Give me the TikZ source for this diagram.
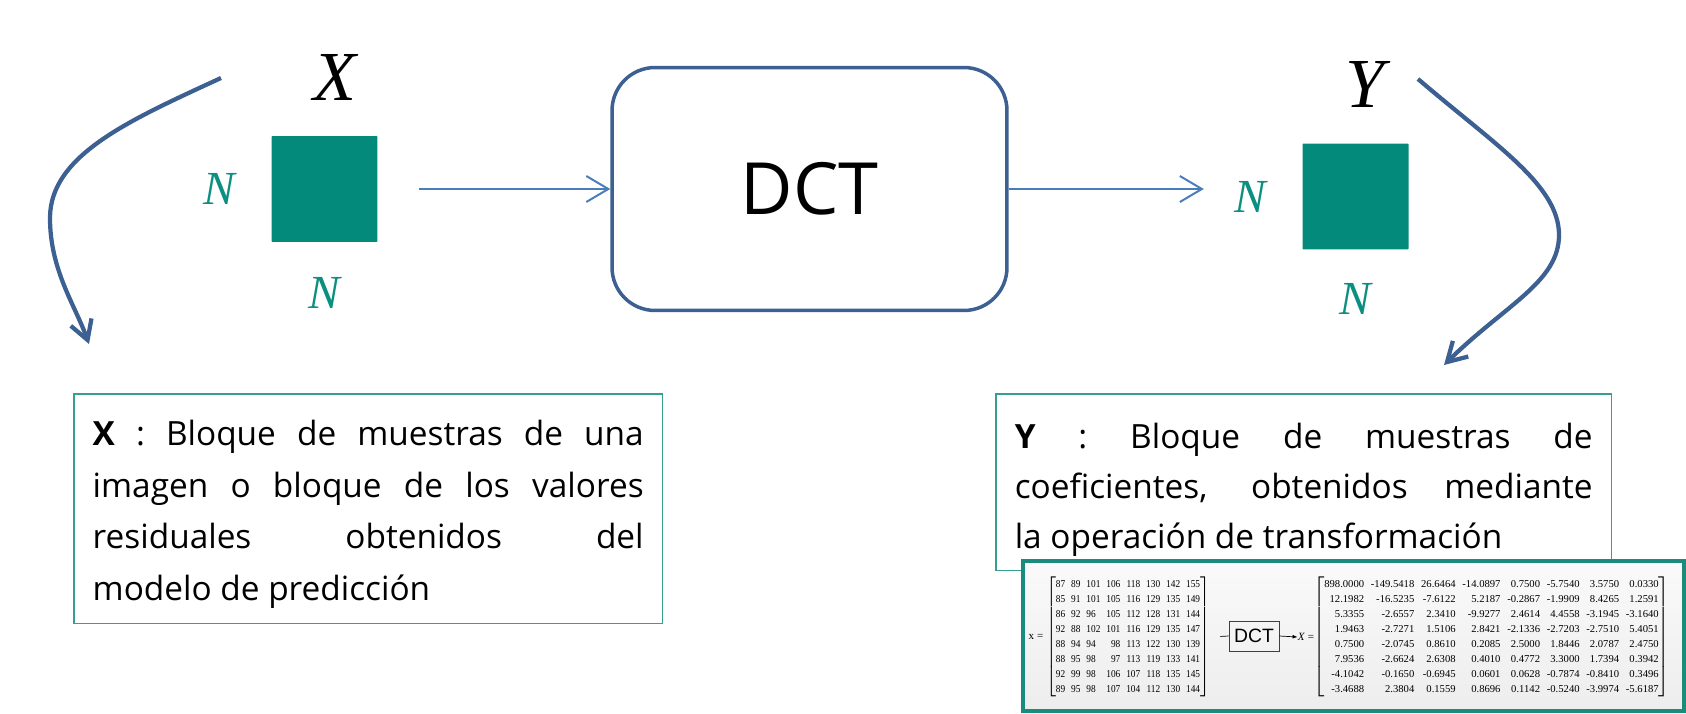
\documentclass[tikz,border=0pt]{standalone}
\usepackage{fontspec}
\setmainfont{Open Sans}
\newfontfamily\matfont{Liberation Serif}
\newfontfamily\boxfont{Liberation Sans}
\usepackage{graphicx}
\usetikzlibrary{arrows.meta,positioning}
\definecolor{blockgreen}{HTML}{038A7A}
\definecolor{dimgreen}{HTML}{0B8F80}
\definecolor{curveblue}{HTML}{3C6091}
\definecolor{arrowblue}{HTML}{4A7EBB}
\definecolor{boxgreen}{HTML}{35A090}
\definecolor{framegreen}{HTML}{1B8B7B}

\begin{document}
\begin{tikzpicture}[x=0.02cm, y=-0.02cm,
  blk/.style={fill=blockgreen, rounded corners=0.5pt, minimum size=2.12cm, inner sep=0},
  dim/.style={text=dimgreen, inner sep=0, font=\matfont\itshape\fontsize{27}{30}\selectfont},
  var/.style={inner sep=0, font=\matfont\itshape\fontsize{40}{46}\selectfont},
  desc/.style={draw=boxgreen, line width=0.03cm, align=justify, inner xsep=0.38cm, anchor=north west},
  ar/.style={-{Straight Barb[length=4.4mm, width=5.2mm]}, draw=arrowblue, line width=0.04cm},
  cur/.style={-{Straight Barb[length=3.8mm, width=4.4mm]}, draw=curveblue, line width=0.085cm},
  mat/.style={inner sep=0, font=\matfont\fontsize{6.3}{9}\selectfont}]
\useasboundingbox (0,0) rectangle (1686,713);
% input block
\node[blk] (sqx) at (324.5,189) {};
\node[var, above=0.7cm of sqx, xshift=0.2cm] (labx) {X};
\node[dim, left=0.72cm of sqx] (nxl) {N};
\node[dim, below=0.7cm of sqx] (nxb) {N};
\node[draw=curveblue, line width=0.07cm, rounded corners=0.86cm, minimum width=7.9cm,
  minimum height=4.86cm, font=\fontsize{41}{46}\selectfont] (dct) at (809.5,189) {DCT};
% output block
\node[blk] (sqy) at (1355.5,196.5) {};
\node[var, above=0.7cm of sqy, xshift=0.2cm] (laby) {Y};
\node[dim, left=0.72cm of sqy] (nyl) {N};
\node[dim, below=0.66cm of sqy] (nyb) {N};
\draw[ar, shorten <=0.82cm] (sqx.east) -- (dct.west);
\draw[ar, shorten >=0.6cm] (dct.east) -- (dct.east -| nyl.west);
% curved pointers
\coordinate (xs) at (221,78);
\coordinate (xe) at (89,344);
\coordinate (ys) at (1418,79);
\coordinate (ye) at (1444,365);
\draw[cur] (xs) .. controls (130,120) and (50,155) .. (50,218) .. controls (50,270) and (75,305) .. (xe);
\draw[cur] (ys) .. controls (1495,145) and (1559,185) .. (1559,235) .. controls (1559,282) and (1505,305) .. (ye);
% descriptions
\node[desc, text width=11.02cm, inner ysep=0.31cm, font=\fontsize{19}{29.3}\selectfont] (dx) at (73,393)
  {\rule{0pt}{0.73cm}\textbf{X} : Bloque de muestras de una\linebreak imagen o bloque de los valores\linebreak
   residuales obtenidos del\linebreak modelo de predicción\rule[-0.13cm]{0pt}{0pt}};
\node[desc, text width=11.56cm, inner ysep=0.27cm, font=\fontsize{19}{28.5}\selectfont] (dy) at (995,393)
  {\rule{0pt}{0.83cm}\textbf{Y} : Bloque de muestras de\linebreak coeficientes, obtenidos mediante\linebreak
   la operación de transformación\rule[-0.13cm]{0pt}{0pt}};
% example picture
\node[draw=framegreen, line width=0.08cm, minimum width=13.22cm, minimum height=3cm,
  top color=gray!4, bottom color=gray!14, inner sep=0] (img) at (1353.5,636) {};
\node[mat] (xeq) at (1036,637) {x =};
\node[mat] (mx) at (1128,637) {\resizebox*{3.28cm}{2.4cm}{\setlength{\tabcolsep}{2pt}$\left[\begin{tabular}{@{}lllrrrrr@{}}
  87&89&101&106&118&130&142&155\\ 85&91&101&105&116&129&135&149\\
  86&92&96&105&112&128&131&144\\ 92&88&102&101&116&129&135&147\\
  88&94&94&98&113&122&130&139\\ 88&95&98&97&113&119&133&141\\
  92&99&98&106&107&118&135&145\\ 89&95&98&107&104&112&130&144
  \end{tabular}\right]$}};
\node[draw=black!75, line width=0.5pt, minimum width=1cm, minimum height=0.6cm, inner sep=0,
  font=\boxfont\fontsize{11}{12}\selectfont] (mdct) at (1254,636) {DCT};
\node[mat] (yeq) at (1306,637) {\textit{X} =};
\node[mat] (my) at (1491.5,637) {\resizebox*{7.14cm}{2.4cm}{\setlength{\tabcolsep}{2pt}$\left[\begin{tabular}{@{}rrrrrrrr@{}}
  898.0000&-149.5418&26.6464&-14.0897&0.7500&-5.7540&3.5750&0.0330\\
  12.1982&-16.5235&-7.6122&5.2187&-0.2867&-1.9909&8.4265&1.2591\\
  5.3355&-2.6557&2.3410&-9.9277&2.4614&4.4558&-3.1945&-3.1640\\
  1.9463&-2.7271&1.5106&2.8421&-2.1336&-2.7203&-2.7510&5.4051\\
  0.7500&-2.0745&0.8610&0.2085&2.5000&1.8446&2.0787&2.4750\\
  7.9536&-2.6624&2.6308&0.4010&0.4772&3.3000&1.7394&0.3942\\
  -4.1042&-0.1650&-0.6945&0.0601&0.0628&-0.7874&-0.8410&0.3496\\
  -3.4688&2.3804&0.1559&0.8696&0.1142&-0.5240&-3.9974&-5.6187
  \end{tabular}\right]$}};
\draw[line width=0.4pt, shorten <=0.2cm] (mx.east) -- (mdct.west);
\draw[-{Latex[length=1mm]}, line width=0.4pt] (mdct.east) -- (yeq.west);
\end{tikzpicture}
\end{document}
